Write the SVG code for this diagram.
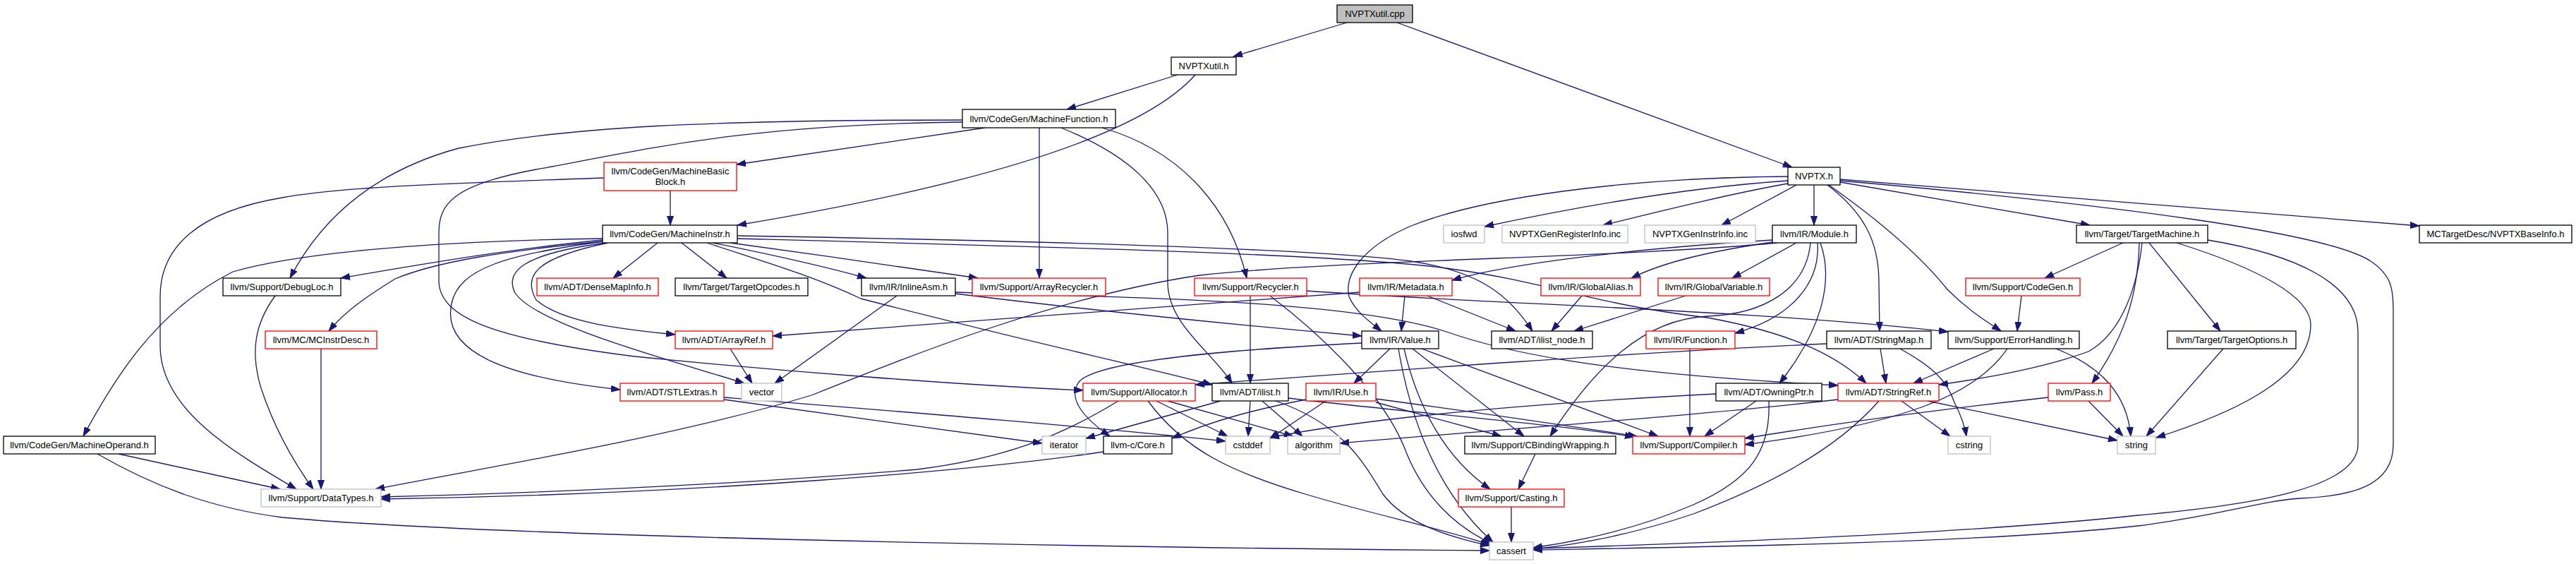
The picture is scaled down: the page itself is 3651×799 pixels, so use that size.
<svg xmlns="http://www.w3.org/2000/svg" width="3651" height="799" viewBox="0 0 3651 799">
<style>
.e{fill:none;stroke:#191970;stroke-width:1.3}
.n rect{fill:#fff;stroke-width:1.3}
.b rect{stroke:#000}
.r rect{stroke:#ff0000}
.g rect{stroke:#bfbfbf}
.root rect{fill:#bfbfbf;stroke:#000}
.n text{font-family:"Liberation Sans",Arial,sans-serif;font-size:13px;text-anchor:middle;fill:#000}
</style>
<defs>
<marker id="a" markerUnits="userSpaceOnUse" markerWidth="14" markerHeight="10" refX="13" refY="5" orient="auto">
<path d="M0,0.5 L13,5 L0,9.5 z" fill="#191970" stroke="#191970" stroke-width="1"/>
</marker>
</defs>
<rect width="3651" height="799" fill="#fff"/>
<g id="edges" marker-end="url(#a)">
<path class="e" d="M1909,32 L1748,80"/>
<path class="e" d="M1980,32 L2540,237"/>
<path class="e" d="M1669,106 L1512,155"/>
<path class="e" d="M1694,106 C1620,190 1400,260 1045,319"/>
<path class="e" d="M1396,181 L1044,233"/>
<path class="e" d="M1364,170 C1000,170 800,180 650,210 C540,240 460,300 411,394"/>
<path class="e" d="M1364,173 C1050,176 900,215 760,240 C640,262 622,290 622,330 L622,400 C625,450 700,480 900,505 C1100,525 1350,545 1535,553"/>
<path class="e" d="M1473,181 L1473,394"/>
<path class="e" d="M1562,181 C1680,215 1745,300 1767,394"/>
<path class="e" d="M1504,181 C1600,220 1655,270 1655,330 L1655,400 C1655,460 1720,500 1746,543"/>
<path class="e" d="M950,270 L950,319"/>
<path class="e" d="M856,252 C700,258 500,262 400,280 C280,300 227,350 227,420 L227,490 C227,580 330,640 420,693"/>
<path class="e" d="M854,338 C700,340 450,350 330,385 C220,440 160,540 118,618"/>
<path class="e" d="M854,340 C750,350 650,365 483,394"/>
<path class="e" d="M854,342 C720,355 620,370 560,395 C520,420 490,440 466,469"/>
<path class="e" d="M856,342 C720,360 650,380 640,430 C625,500 720,535 879,552"/>
<path class="e" d="M858,344 C740,360 715,385 730,415 C760,460 950,510 1055,543"/>
<path class="e" d="M862,344 C760,365 740,390 760,425 C800,460 900,468 957,474"/>
<path class="e" d="M932,344 L869,394"/>
<path class="e" d="M966,344 L1030,394"/>
<path class="e" d="M1010,344 C1100,362 1170,378 1228,394"/>
<path class="e" d="M1035,344 C1150,360 1280,378 1386,394"/>
<path class="e" d="M1002,344 C1080,370 1150,390 1220,423 C1400,470 1600,515 1718,545"/>
<path class="e" d="M1045,334 C1400,340 1850,350 2000,370 C2100,385 2140,420 2172,469"/>
<path class="e" d="M1045,338 C1500,350 1900,360 2050,380 C2200,400 2250,430 2420,450 C2530,470 2600,500 2645,543"/>
<path class="e" d="M390,419 C360,460 355,500 370,550 C390,610 420,660 444,693"/>
<path class="e" d="M455,494 L455,693"/>
<path class="e" d="M168,643 L397,693"/>
<path class="e" d="M138,643 C220,690 300,720 400,733 C700,760 1500,775 2111,780"/>
<path class="e" d="M1035,494 L1066,543"/>
<path class="e" d="M1271,419 L1098,543"/>
<path class="e" d="M1354,416 C1550,440 1750,460 1930,476"/>
<path class="e" d="M1354,414 C1500,420 1900,420 2050,470 C2150,505 2300,530 2605,546"/>
<path class="e" d="M1927,414 C1700,430 1400,455 1095,476"/>
<path class="e" d="M2242,419 L2199,469"/>
<path class="e" d="M2389,419 L2231,469"/>
<path class="e" d="M1991,419 L1986,469"/>
<path class="e" d="M2023,419 L2148,469"/>
<path class="e" d="M2534,250 C2300,252 2100,280 2000,320 C1930,350 1905,390 1912,420 C1920,440 1940,455 1958,469"/>
<path class="e" d="M2534,256 C2400,265 2250,290 2104,321"/>
<path class="e" d="M2534,260 C2450,275 2350,300 2272,319"/>
<path class="e" d="M2546,262 L2440,319"/>
<path class="e" d="M2571,262 L2571,319"/>
<path class="e" d="M2590,262 C2640,300 2663,340 2663,400 L2664,469"/>
<path class="e" d="M2592,262 C2660,310 2720,360 2760,410 C2790,440 2815,455 2836,469"/>
<path class="e" d="M2608,254 L3429,320"/>
<path class="e" d="M2608,258 L2962,319"/>
<path class="e" d="M2608,256 C3000,290 3300,330 3360,370 C3390,390 3392,410 3392,440 L3392,630 C3392,690 3330,703 3260,706 C3200,710 3150,730 3030,745 C2800,770 2400,775 2173,779"/>
<path class="e" d="M3009,344 L2898,394"/>
<path class="e" d="M3046,344 L3147,469"/>
<path class="e" d="M3085,344 C3200,380 3275,420 3275,460 C3275,540 3150,590 3056,620"/>
<path class="e" d="M3129,340 C3250,360 3342,400 3342,470 L3342,630 C3342,690 3200,715 3030,730 C2800,755 2400,770 2173,777"/>
<path class="e" d="M3036,344 C3030,400 3010,470 2960,498 C2900,520 2820,535 2748,545"/>
<path class="e" d="M3032,344 C3030,420 3010,480 2965,543"/>
<path class="e" d="M2865,419 L2859,469"/>
<path class="e" d="M3151,494 L3042,618"/>
<path class="e" d="M2665,494 L2673,543"/>
<path class="e" d="M2693,494 C2740,520 2760,540 2770,570 C2780,590 2785,605 2787,618"/>
<path class="e" d="M2589,487 C2300,500 1900,530 1694,545"/>
<path class="e" d="M2826,494 L2712,543"/>
<path class="e" d="M2845,494 C2800,560 2700,600 2473,630"/>
<path class="e" d="M2914,494 C2980,520 3015,560 3020,618"/>
<path class="e" d="M2489,568 L2416,618"/>
<path class="e" d="M2507,568 C2510,640 2480,680 2400,715 C2330,745 2250,765 2173,776"/>
<path class="e" d="M2432,558 C2200,570 1950,590 1800,620"/>
<path class="e" d="M2605,566 C2400,590 2100,610 1899,628"/>
<path class="e" d="M2663,568 C2600,640 2500,690 2400,728 C2320,755 2250,770 2173,778"/>
<path class="e" d="M2695,568 L2764,618"/>
<path class="e" d="M2732,568 L3001,624"/>
<path class="e" d="M2903,563 C2750,580 2600,600 2473,621"/>
<path class="e" d="M2960,568 L3009,618"/>
<path class="e" d="M2395,494 L2395,618"/>
<path class="e" d="M2576,344 C2580,400 2540,450 2459,472"/>
<path class="e" d="M2580,344 C2600,400 2580,470 2522,543"/>
<path class="e" d="M2566,344 C2560,410 2500,445 2420,448 C2330,452 2260,520 2197,618"/>
<path class="e" d="M2546,344 L2455,394"/>
<path class="e" d="M2512,340 C2350,350 2150,370 2058,397"/>
<path class="e" d="M2512,343 C2430,355 2360,370 2312,394"/>
<path class="e" d="M2519,344 C2300,365 1900,368 1700,390 C1500,420 1300,500 1150,560 C950,620 700,660 532,693"/>
<path class="e" d="M1585,568 C1500,620 1420,650 1300,665 C1000,690 700,700 540,704"/>
<path class="e" d="M1564,640 C1400,665 1000,700 540,707"/>
<path class="e" d="M1627,568 C1680,640 1750,670 1850,700 C1950,730 2050,750 2112,772"/>
<path class="e" d="M1639,568 L1740,618"/>
<path class="e" d="M1655,568 L1833,618"/>
<path class="e" d="M1730,568 L1539,621"/>
<path class="e" d="M1772,568 L1769,618"/>
<path class="e" d="M1789,568 L1846,618"/>
<path class="e" d="M1826,564 C2000,585 2200,600 2316,619"/>
<path class="e" d="M1808,568 C1900,600 1930,650 1960,700 C1990,740 2050,760 2111,773"/>
<path class="e" d="M1879,568 L1800,621"/>
<path class="e" d="M1851,566 C1780,580 1720,595 1661,621"/>
<path class="e" d="M1950,570 L2128,618"/>
<path class="e" d="M1950,565 C2100,585 2200,600 2320,618"/>
<path class="e" d="M1970,494 L1919,543"/>
<path class="e" d="M1990,494 C2010,580 2050,650 2112,693"/>
<path class="e" d="M1982,494 C2000,600 2040,700 2116,768"/>
<path class="e" d="M2002,494 L2160,618"/>
<path class="e" d="M2015,494 L2350,618"/>
<path class="e" d="M1930,486 C1750,495 1560,510 1530,540 C1510,565 1540,595 1573,618"/>
<path class="e" d="M2176,643 L2152,693"/>
<path class="e" d="M2142,718 L2142,768"/>
<path class="e" d="M1772,419 L1772,543"/>
<path class="e" d="M1800,419 C1880,480 1960,560 1990,633 C2015,700 2060,745 2114,770"/>
<path class="e" d="M1852,412 C2100,430 2500,440 2761,470"/>
<path class="e" d="M1026,566 C1200,590 1350,610 1477,628"/>
<path class="e" d="M1026,563 C1300,585 1550,605 1737,625"/>
</g>
<g id="n1" class="n root"><rect x="1895" y="7" width="107" height="25"/><text x="1948.5" y="24">NVPTXutil.cpp</text></g>
<g id="n2" class="n b"><rect x="1660" y="81" width="92" height="25"/><text x="1706" y="98">NVPTXutil.h</text></g>
<g id="n3" class="n b"><rect x="1364" y="155" width="217" height="26"/><text x="1472.5" y="172.5">llvm/CodeGen/MachineFunction.h</text></g>
<g id="n4" class="n r"><rect x="856" y="230" width="188" height="40"/><text x="950" y="247">llvm/CodeGen/MachineBasic</text><text x="950" y="262">Block.h</text></g>
<g id="n5" class="n b"><rect x="2534" y="237" width="74" height="25"/><text x="2571" y="254">NVPTX.h</text></g>
<g id="n6" class="n b"><rect x="854" y="319" width="191" height="25"/><text x="949.5" y="336">llvm/CodeGen/MachineInstr.h</text></g>
<g id="n7" class="n g"><rect x="2046" y="319" width="58" height="25"/><text x="2075" y="336">iosfwd</text></g>
<g id="n8" class="n g"><rect x="2129" y="319" width="178" height="25"/><text x="2218" y="336">NVPTXGenRegisterInfo.inc</text></g>
<g id="n9" class="n g"><rect x="2331" y="319" width="157" height="25"/><text x="2409.5" y="336">NVPTXGenInstrInfo.inc</text></g>
<g id="n10" class="n b"><rect x="2512" y="319" width="119" height="25"/><text x="2571.5" y="336">llvm/IR/Module.h</text></g>
<g id="n11" class="n b"><rect x="2943" y="319" width="186" height="25"/><text x="3036" y="336">llvm/Target/TargetMachine.h</text></g>
<g id="n12" class="n b"><rect x="3429" y="319" width="216" height="25"/><text x="3537" y="336">MCTargetDesc/NVPTXBaseInfo.h</text></g>
<g id="n13" class="n b"><rect x="316" y="394" width="167" height="25"/><text x="399.5" y="411">llvm/Support/DebugLoc.h</text></g>
<g id="n14" class="n r"><rect x="761" y="394" width="172" height="25"/><text x="847" y="411">llvm/ADT/DenseMapInfo.h</text></g>
<g id="n15" class="n b"><rect x="957" y="394" width="188" height="25"/><text x="1051" y="411">llvm/Target/TargetOpcodes.h</text></g>
<g id="n16" class="n b"><rect x="1221" y="394" width="133" height="25"/><text x="1287.5" y="411">llvm/IR/InlineAsm.h</text></g>
<g id="n17" class="n r"><rect x="1378" y="394" width="189" height="25"/><text x="1472.5" y="411">llvm/Support/ArrayRecycler.h</text></g>
<g id="n18" class="n r"><rect x="1693" y="394" width="159" height="25"/><text x="1772.5" y="411">llvm/Support/Recycler.h</text></g>
<g id="n19" class="n r"><rect x="1927" y="394" width="131" height="25"/><text x="1992.5" y="411">llvm/IR/Metadata.h</text></g>
<g id="n20" class="n r"><rect x="2184" y="394" width="141" height="25"/><text x="2254.5" y="411">llvm/IR/GlobalAlias.h</text></g>
<g id="n21" class="n r"><rect x="2350" y="394" width="158" height="25"/><text x="2429" y="411">llvm/IR/GlobalVariable.h</text></g>
<g id="n22" class="n r"><rect x="2786" y="394" width="162" height="25"/><text x="2867" y="411">llvm/Support/CodeGen.h</text></g>
<g id="n23" class="n r"><rect x="376" y="469" width="158" height="25"/><text x="455" y="486">llvm/MC/MCInstrDesc.h</text></g>
<g id="n24" class="n r"><rect x="957" y="469" width="138" height="25"/><text x="1026" y="486">llvm/ADT/ArrayRef.h</text></g>
<g id="n25" class="n b"><rect x="1930" y="469" width="109" height="25"/><text x="1984.5" y="486">llvm/IR/Value.h</text></g>
<g id="n26" class="n b"><rect x="2114" y="469" width="143" height="25"/><text x="2185.5" y="486">llvm/ADT/ilist_node.h</text></g>
<g id="n27" class="n r"><rect x="2333" y="469" width="126" height="25"/><text x="2396" y="486">llvm/IR/Function.h</text></g>
<g id="n28" class="n b"><rect x="2589" y="469" width="148" height="25"/><text x="2663" y="486">llvm/ADT/StringMap.h</text></g>
<g id="n29" class="n b"><rect x="2761" y="469" width="186" height="25"/><text x="2854" y="486">llvm/Support/ErrorHandling.h</text></g>
<g id="n30" class="n b"><rect x="3072" y="469" width="182" height="25"/><text x="3163" y="486">llvm/Target/TargetOptions.h</text></g>
<g id="n31" class="n r"><rect x="879" y="543" width="147" height="25"/><text x="952.5" y="560">llvm/ADT/STLExtras.h</text></g>
<g id="n32" class="n g"><rect x="1051" y="543" width="57" height="25"/><text x="1079.5" y="560">vector</text></g>
<g id="n33" class="n r"><rect x="1535" y="543" width="159" height="25"/><text x="1614.5" y="560">llvm/Support/Allocator.h</text></g>
<g id="n34" class="n b"><rect x="1718" y="543" width="108" height="25"/><text x="1772" y="560">llvm/ADT/ilist.h</text></g>
<g id="n35" class="n r"><rect x="1851" y="543" width="99" height="25"/><text x="1900.5" y="560">llvm/IR/Use.h</text></g>
<g id="n36" class="n b"><rect x="2432" y="543" width="150" height="25"/><text x="2507" y="560">llvm/ADT/OwningPtr.h</text></g>
<g id="n37" class="n r"><rect x="2605" y="543" width="143" height="25"/><text x="2676.5" y="560">llvm/ADT/StringRef.h</text></g>
<g id="n38" class="n r"><rect x="2903" y="543" width="88" height="25"/><text x="2947" y="560">llvm/Pass.h</text></g>
<g id="n39" class="n b"><rect x="5" y="618" width="215" height="25"/><text x="112.5" y="635">llvm/CodeGen/MachineOperand.h</text></g>
<g id="n40" class="n g"><rect x="1477" y="618" width="62" height="25"/><text x="1508" y="635">iterator</text></g>
<g id="n41" class="n b"><rect x="1564" y="618" width="97" height="25"/><text x="1612.5" y="635">llvm-c/Core.h</text></g>
<g id="n42" class="n g"><rect x="1737" y="618" width="63" height="25"/><text x="1768.5" y="635">cstddef</text></g>
<g id="n43" class="n g"><rect x="1825" y="618" width="74" height="25"/><text x="1862" y="635">algorithm</text></g>
<g id="n44" class="n b"><rect x="2076" y="618" width="214" height="25"/><text x="2183" y="635">llvm/Support/CBindingWrapping.h</text></g>
<g id="n45" class="n r"><rect x="2314" y="618" width="159" height="25"/><text x="2393.5" y="635">llvm/Support/Compiler.h</text></g>
<g id="n46" class="n g"><rect x="2761" y="618" width="60" height="25"/><text x="2791" y="635">cstring</text></g>
<g id="n47" class="n g"><rect x="3001" y="618" width="54" height="25"/><text x="3028" y="635">string</text></g>
<g id="n48" class="n g"><rect x="370" y="693" width="170" height="25"/><text x="455" y="710">llvm/Support/DataTypes.h</text></g>
<g id="n49" class="n r"><rect x="2067" y="693" width="150" height="25"/><text x="2142" y="710">llvm/Support/Casting.h</text></g>
<g id="n50" class="n g"><rect x="2111" y="768" width="62" height="25"/><text x="2142" y="785">cassert</text></g>
</svg>
